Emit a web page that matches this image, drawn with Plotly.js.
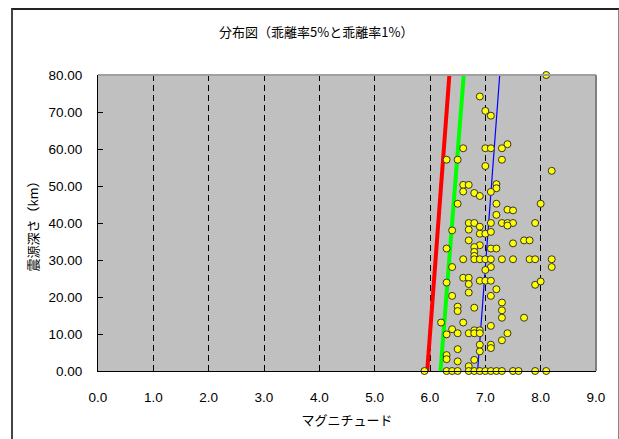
<!DOCTYPE html>
<html>
<head>
<meta charset="utf-8">
<script src="https://cdn.plot.ly/plotly-3.0.1.min.js"></script>
<style>
  html, body { margin: 0; padding: 0; background: #fff; }
  #wrap { position: relative; width: 619px; height: 439px; }
  #chart { width: 619px; height: 439px; }
  #frame { position: absolute; left: 11px; top: 8px; width: 605px; height: 440px;
           border-top: 2px solid #222; border-left: 2px solid #444; border-right: 2px solid #888;
           pointer-events: none; }
</style>
</head>
<body>
<div id="wrap"><div id="chart"></div><div id="frame"></div></div>
<script>
// Earthquake data: magnitude vs hypocentral depth (km)
const magnitude = [
  8.1, 6.9, 7.0, 7.1, 6.6, 7.0, 7.1, 7.3, 7.4, 6.3, 6.5, 7.3, 7.0, 8.2,
  6.6, 6.7, 7.2, 7.2, 6.6, 6.8, 6.9, 7.1, 6.5, 7.2, 8.0, 7.4, 7.5, 7.2,
  6.7, 6.8, 7.1, 7.3, 7.4, 7.5, 7.9, 7.4, 6.9, 6.7, 6.4, 6.9, 7.0, 7.1,
  6.7, 7.7, 7.8, 7.5, 6.9, 6.8, 6.3, 7.1, 7.2, 6.8, 6.8,
  6.6, 6.8, 6.9, 7.0, 7.1, 7.3, 7.5, 7.8, 7.9, 8.2,
  6.4, 7.1, 8.2, 7.0, 6.6, 6.7, 6.9, 7.0, 7.1,
  6.7, 6.3, 7.9, 8.0, 7.2, 6.4, 7.1, 6.7, 7.3, 6.5, 6.5, 6.8, 7.3, 7.3, 7.7,
  6.2, 6.6, 7.1, 6.4, 6.5, 6.3, 6.7, 6.8, 6.9, 6.8, 6.9, 7.4, 7.3,
  6.9, 7.1, 7.1, 6.5, 6.9, 6.3, 6.3, 6.8, 6.5, 6.7,
  5.9, 6.3, 6.4, 6.5, 6.7, 6.8, 6.9, 7.0, 7.1, 7.2, 7.3, 7.5, 7.6, 7.9, 8.1
];
const depth = [
  80.0, 74.2, 70.3, 69.0, 60.2, 60.2, 60.2, 60.2, 61.3, 57.1, 57.1, 57.1, 55.4, 54.1,
  50.3, 50.3, 50.5, 49.4, 48.5, 48.1, 47.3, 48.4, 45.2, 45.2, 45.2, 43.6, 43.4, 42.2,
  40.0, 40.0, 40.0, 40.0, 40.0, 40.0, 40.0, 39.3, 39.0, 38.2, 38.0, 37.1, 37.1, 37.6,
  35.3, 35.3, 35.3, 34.5, 34.0, 33.5, 33.1, 33.1, 33.1, 32.2, 31.1,
  30.2, 30.2, 30.2, 30.2, 30.2, 30.2, 30.2, 30.2, 30.2, 30.2,
  28.1, 28.1, 28.1, 27.3, 25.2, 25.2, 24.4, 24.4, 24.4,
  23.5, 23.9, 23.3, 24.2, 22.1, 20.3, 20.3, 21.2, 18.5, 17.4, 16.2, 17.1, 16.4, 14.4, 14.4,
  13.1, 13.1, 12.2, 11.3, 10.2, 9.9, 10.2, 11.0, 11.0, 10.2, 10.2, 10.2, 8.3,
  7.1, 7.1, 6.2, 5.9, 5.3, 4.3, 3.2, 3.0, 2.6, 1.3,
  0, 0, 0, 0, 0, 0, 0, 0, 0, 0, 0, 0, 0, 0, 0
];
// Boundary lines
const lineDepth = [0, 80];
const redLineMag = [5.95, 6.35];
const greenLineMag = [6.19, 6.61];
const blueLineMag = [6.86, 7.26];

const xTickVals = [0, 1, 2, 3, 4, 5, 6, 7, 8, 9];
const yTickVals = [0, 10, 20, 30, 40, 50, 60, 70, 80];

const titleText = '分布図（乖離率5%と乖離率1%）';
const xTitle = 'マグニチュード';
const yTitle = '震源深さ（km）';

const traces = [
  {x: redLineMag, y: lineDepth, mode: 'lines', line: {color: '#FF0000', width: 4}, cliponaxis: true, hoverinfo: 'skip', name: 'red'},
  {x: greenLineMag, y: lineDepth, mode: 'lines', line: {color: '#00FF00', width: 4}, cliponaxis: true, hoverinfo: 'skip', name: 'green'},
  {x: blueLineMag, y: lineDepth, mode: 'lines', line: {color: '#0000FF', width: 1.2}, cliponaxis: true, hoverinfo: 'skip', name: 'blue'},
  {x: magnitude, y: depth, mode: 'markers', cliponaxis: false, name: 'data',
   marker: {color: '#FFFF00', size: 7, line: {color: '#333333', width: 1}}}
];

const cjk = '"Noto Sans CJK JP", "Noto Sans", sans-serif';
const tickFont = {family: '"Liberation Sans", Arial, sans-serif', size: 13.5, color: '#000'};
const layout = {
  width: 619, height: 439,
  margin: {l: 98, r: 23, t: 75, b: 68},
  paper_bgcolor: '#FFFFFF',
  plot_bgcolor: '#C0C0C0',
  showlegend: false,
  title: {text: titleText, font: {family: cjk, size: 13, color: '#000'}, x: 0.511, xanchor: 'center', y: 0.927, yanchor: 'middle'},
  xaxis: {
    range: [0, 9], tickvals: xTickVals, tickformat: '.1f',
    showgrid: true, gridcolor: '#000000', gridwidth: 1, griddash: '6px,4px',
    zeroline: false, showline: true, linecolor: '#000000', linewidth: 1,
    ticks: '', ticklabelstandoff: 14,
    tickfont: tickFont,
    title: {text: xTitle, font: {family: cjk, size: 13, color: '#000'}, standoff: 11}
  },
  yaxis: {
    range: [0, 80], tickvals: yTickVals, tickformat: '.2f',
    showgrid: false, zeroline: false, showline: true, linecolor: '#000000', linewidth: 1,
    ticks: 'inside', ticklen: 5, tickcolor: '#000', ticklabelstandoff: 12,
    tickfont: tickFont,
    title: {text: yTitle, font: {family: cjk, size: 13, color: '#000'}, standoff: 6}
  },
  shapes: [
    {type: 'line', xref: 'paper', yref: 'paper', x0: 0, x1: 1, y0: 1, y1: 1, line: {color: '#A0A0A0', width: 2}, layer: 'above'},
    {type: 'line', xref: 'paper', yref: 'paper', x0: 1, x1: 1, y0: 0, y1: 1, line: {color: '#808080', width: 2}, layer: 'above'}
  ]
};

Plotly.newPlot('chart', traces, layout, {displayModeBar: false, staticPlot: true});
</script>
</body>
</html>
